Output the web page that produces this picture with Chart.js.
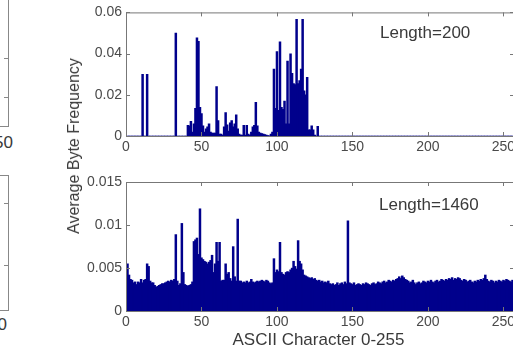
<!DOCTYPE html>
<html><head><meta charset="utf-8">
<script src="https://cdn.jsdelivr.net/npm/chart.js@4.4.1/dist/chart.umd.min.js"></script>
<style>
html,body{margin:0;padding:0;background:#fff;overflow:hidden;width:513px;height:350px;}
#wrap{position:relative;width:513px;height:350px;overflow:hidden;font-family:"Liberation Sans",Arial,sans-serif;color:#3a3a3a;}
.holder{position:absolute;left:0;}
.txt{position:absolute;white-space:nowrap;line-height:20px;}
.lbox{position:absolute;border:1px solid #888;box-sizing:border-box;}
.tk{position:absolute;height:1px;width:4px;background:#888;}
</style></head><body><div id="wrap">

<!-- partial neighbouring figure at the left edge -->
<div class="lbox" style="left:-200px;top:-20px;width:209px;height:147px;"></div>
<div class="tk" style="left:4px;top:58px;"></div>
<div class="tk" style="left:4px;top:97px;"></div>
<div class="txt" style="font-size:17px;right:500px;top:133px;">250</div>
<div class="lbox" style="left:-200px;top:175px;width:209px;height:136px;"></div>
<div class="tk" style="left:4px;top:203px;"></div>
<div class="tk" style="left:4px;top:265px;"></div>
<div class="txt" style="font-size:17px;right:506px;top:315px;">250</div>

<div class="holder" style="top:0;width:520px;height:160px;"><canvas id="c1" width="520" height="160"></canvas></div>
<div class="holder" style="top:160px;width:520px;height:190px;"><canvas id="c2" width="520" height="190"></canvas></div>

<div class="txt" style="font-size:17px;left:380px;top:23px;">Length=200</div>
<div class="txt" style="font-size:17px;left:379px;top:195px;">Length=1460</div>
<div class="txt" style="font-size:17px;left:318.5px;top:330px;transform:translateX(-50%);">ASCII Character 0-255</div>
<div class="txt" style="font-size:16px;left:74px;top:146px;transform:translate(-50%,-50%) rotate(-90deg);">Average Byte Frequency</div>
</div>
<script>
// byte value axis (MATLAB 1-based index: byte b is plotted at b+1)
const byteIndex = Array.from({length: 256}, (_, i) => i + 1);
const xTicks = [0, 50, 100, 150, 200, 250];
const yTicksTop = [0, 0.02, 0.04, 0.06];
const yLabelsTop = ['0', '0.02', '0.04', '0.06'];
const yTicksBottom = [0, 0.005, 0.01, 0.015];
const yLabelsBottom = ['0', '0.005', '0.01', '0.015'];

// Length=200 average byte frequency (index 1..256)
const freq200 = [
 0,0,0,0,0,0,0,0,0,0, .030,0,0,.030,0,0,0,0,0,0,
 0,0,0,0,0,0,0,0,0,0, 0,0,.050,0,0,0,0,0,0,0,
 .0052,.0050,.0072,.0020,.0060,.0135,.0477,.0460,.0140,.0110, .0050,.0020,.0035,.0045,.0060,.0020,.0015,.0015,.0015,.0240,
 .0075,.0010,.0010,.0005,.0045,.0114,.0055,.0025,.0065,.0075, .0045,.0060,.0103,.0035,.0010,.0005,.0005,.0052,.0005,.0052,
 .0010,.0005,.0020,.0045,.0052,.0164,.0050,.0020,.0015,.0012, .0010,.0008,.0005,.0003,.0002,.0010,.0020,.0325,.0135,.0410,
 .0125,.0458,.0140,.0130,.0170,.0060,.0364,.0060,.0400,.0305, .0255,.0250,.0567,.0255,.0270,.0325,.0567,.0220,.0200,.0286,
 .0030,.0030,.0050,.0030,.0005,0,.0047,0,0,0, 0,0,0,0,0,0,0,0,0,0,
 0,0,0,0,0,0,0,0,0,0, 0,0,0,0,0,0,0,0,0,0,
 0,0,0,0,0,0,0,0,0,0, 0,0,0,0,0,0,0,0,0,0,
 0,0,0,0,0,0,0,0,0,0, 0,0,0,0,0,0,0,0,0,0,
 0,0,0,0,0,0,0,0,0,0, 0,0,0,0,0,0,0,0,0,0,
 0,0,0,0,0,0,0,0,0,0, 0,0,0,0,0,0,0,0,0,0,
 0,0,0,0,0,0,0,0,0,0, 0,0,0,0,0,0
];

// Length=1460 average byte frequency (index 1..256)
const freq1460 = [
 .0055,.0042,.0037,.0036,.0033,.0034,.0031,.0034,.0033,.0037, .0033,.0036,.0037,.0055,.0052,.0035,.0033,.0033,.0030,.0028,
 .0029,.0030,.0031,.0032,.0032,.0033,.0034,.0035,.0034,.0036, .0035,.0037,.0089,.0035,.0030,.0032,.0102,.0045,.0031,.0030,
 .0029,.0030,.0031,.0034,.0081,.0083,.0085,.0066,.0119,.0062, .0060,.0058,.0057,.0055,.0057,.0059,.0065,.0045,.0055,.0080,
 .0058,.0080,.0035,.0036,.0036,.0055,.0043,.0045,.0038,.0035, .0075,.0040,.0035,.0107,.0035,.0035,.0033,.0034,.0033,.0035,
 .0033,.0034,.0037,.0034,.0033,.0034,.0035,.0034,.0035,.0036, .0035,.0034,.0036,.0035,.0033,.0032,.0033,.0061,.0045,.0048,
 .0046,.0080,.0045,.0043,.0042,.0045,.0046,.0045,.0048,.0050, .0058,.0052,.0049,.0082,.0058,.0055,.0048,.0042,.0041,.0040,
 .0039,.0038,.0039,.0037,.0038,.0036,.0035,.0036,.0034,.0035, .0033,.0034,.0033,.0035,.0032,.0031,.0032,.0030,.0031,.0033,
 .0030,.0032,.0033,.0031,.0034,.0032,.0105,.0033,.0032,.0031, .0033,.0030,.0031,.0032,.0031,.0030,.0032,.0031,.0033,.0032,
 .0031,.0030,.0032,.0033,.0031,.0032,.0034,.0033,.0032,.0034, .0035,.0033,.0034,.0036,.0035,.0034,.0036,.0035,.0037,.0038,
 .0040,.0038,.0041,.0039,.0037,.0036,.0035,.0033,.0034,.0036, .0033,.0031,.0033,.0034,.0032,.0033,.0035,.0034,.0033,.0035,
 .0034,.0036,.0034,.0033,.0035,.0036,.0034,.0035,.0037,.0036, .0035,.0037,.0036,.0038,.0037,.0039,.0036,.0038,.0037,.0039,
 .0038,.0036,.0035,.0037,.0036,.0034,.0035,.0036,.0034,.0033, .0035,.0034,.0036,.0035,.0037,.0036,.0038,.0042,.0037,.0035,
 .0034,.0036,.0035,.0033,.0035,.0034,.0036,.0035,.0034,.0036, .0035,.0037,.0036,.0035,.0034,.0036
];

const BAR = '#00008c';
const AXIS = '#777';
const TICKCOL = '#4a4a4a';
const FONT = {family: '"Liberation Sans", Arial, sans-serif', size: 14};

const boxPlugin = {
  id: 'matlabBox',
  afterDatasetsDraw(chart) {
    const {ctx, chartArea: a, scales: {x, y}} = chart;
    ctx.save();
    ctx.strokeStyle = AXIS;
    ctx.lineWidth = 1;
    ctx.strokeRect(a.left + 0.5, a.top + 0.5, a.right - a.left, a.bottom - a.top);
    ctx.beginPath();
    xTicks.forEach(v => {
      const px = Math.round(x.getPixelForValue(v)) + 0.5;
      ctx.moveTo(px, a.bottom); ctx.lineTo(px, a.bottom - 4);
      ctx.moveTo(px, a.top); ctx.lineTo(px, a.top + 4);
    });
    y.ticks.forEach(t => {
      const py = Math.round(y.getPixelForValue(t.value)) + 0.5;
      ctx.moveTo(a.left, py); ctx.lineTo(a.left + 4, py);
      ctx.moveTo(a.right, py); ctx.lineTo(a.right - 4, py);
    });
    ctx.stroke();
    ctx.restore();
  }
};

function makeChart(id, values, yMax, yTicks, yLabels, padTop, xHeight) {
  return new Chart(document.getElementById(id), {
    type: 'bar',
    data: {
      datasets: [{
        data: byteIndex.map((b, i) => ({x: b, y: values[i]})),
        backgroundColor: BAR,
        borderWidth: 0,
        barThickness: 2.1,
        inflateAmount: 0.2
      }]
    },
    options: {
      responsive: false,
      animation: false,
      events: [],
      layout: {padding: {top: padTop, right: 6, left: 0, bottom: 0}},
      plugins: {legend: {display: false}, tooltip: {enabled: false}},
      scales: {
        x: {
          type: 'linear', min: 0, max: 257, offset: false,
          grid: {display: false, drawTicks: false, tickLength: 0},
          border: {display: false},
          afterBuildTicks: s => { s.ticks = xTicks.map(v => ({value: v})); },
          afterFit: s => { s.height = xHeight; },
          ticks: {font: FONT, color: TICKCOL, padding: 3, maxRotation: 0, autoSkip: false,
                  callback: v => String(v)}
        },
        y: {
          type: 'linear', min: 0, max: yMax,
          grid: {display: false, drawTicks: false, tickLength: 0},
          border: {display: false},
          afterBuildTicks: s => { s.ticks = yTicks.map(v => ({value: v})); },
          afterFit: s => { s.width = 126; },
          ticks: {font: FONT, color: TICKCOL, padding: 4, autoSkip: false,
                  callback: (v, i) => yLabels[i]}
        }
      }
    },
    plugins: [boxPlugin]
  });
}

makeChart('c1', freq200, 0.06, yTicksTop, yLabelsTop, 8, 24);
makeChart('c2', freq1460, 0.015, yTicksBottom, yLabelsBottom, 22, 39);
</script>
</body></html>
